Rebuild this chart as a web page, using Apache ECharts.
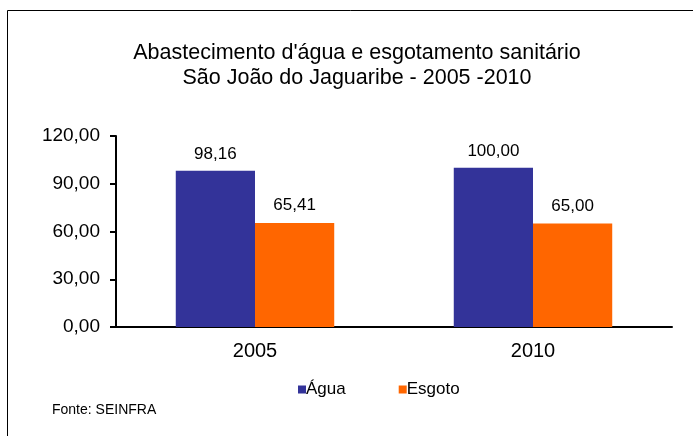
<!DOCTYPE html>
<html>
<head>
<meta charset="utf-8">
<script src="https://cdn.jsdelivr.net/npm/echarts@6/dist/echarts.min.js"></script>
<style>
  html, body { margin: 0; padding: 0; background: #fff; }
  #chart { width: 693px; height: 436px; }
</style>
</head>
<body>
<div id="chart"></div>
<script>
var anos = ['2005', '2010'];
var agua = [98.16, 100.00];
var esgoto = [65.41, 65.00];
var yTicks = [0, 30, 60, 90, 120];

var fmt = function (v) { return Number(v).toFixed(2).replace('.', ','); };

var myChart = echarts.init(document.getElementById('chart'));
var font = 'Liberation Sans, Arial, sans-serif';

var option = {
    backgroundColor: '#fff',
    animation: false,
    textStyle: { fontFamily: font },
    title: {
        text: 'Abastecimento d\'água e esgotamento sanitário\nSão João do Jaguaribe - 2005 -2010',
        left: 352, top: 36, textAlign: 'center',
        textStyle: { fontSize: 21.5, fontWeight: 'normal', color: '#000', lineHeight: 25, fontFamily: font }
    },
    legend: {
        data: ['Água', 'Esgoto'],
        left: 293, top: 376,
        itemWidth: 8, itemHeight: 8, itemGap: 53,
        icon: 'rect',
        textStyle: { fontSize: 17, color: '#000', padding: [0, 0, 0, -5] }
    },
    grid: { left: 116, right: 21, top: 136, bottom: 109 },
    xAxis: {
        type: 'category',
        data: anos,
        axisLine: { lineStyle: { color: '#000', width: 2 } },
        axisTick: { length: 6, lineStyle: { color: '#000', width: 2 } },
        axisLabel: { fontSize: 20, color: '#000', margin: 14 }
    },
    yAxis: {
        type: 'value',
        min: yTicks[0], max: yTicks[yTicks.length - 1], interval: 30,
        axisLine: { show: true, lineStyle: { color: '#000', width: 2 } },
        axisTick: { show: true, length: 6, lineStyle: { color: '#000', width: 2 } },
        splitLine: { show: false },
        axisLabel: { fontSize: 19, color: '#000', margin: 16, formatter: fmt }
    },
    series: [
        {
            name: 'Água', type: 'bar', data: agua,
            barGap: '0%', barCategoryGap: '43%',
            itemStyle: { color: '#333399' },
            label: { show: true, position: 'top', distance: 8, fontSize: 17, color: '#000', formatter: function (p) { return fmt(p.value); } }
        },
        {
            name: 'Esgoto', type: 'bar', data: esgoto,
            itemStyle: { color: '#FF6600' },
            label: { show: true, position: 'top', distance: 9, fontSize: 17, color: '#000', formatter: function (p) { return fmt(p.value); } }
        }
    ],
    graphic: [
        { type: 'rect', shape: { x: 7.5, y: 10.5, width: 720, height: 460 }, style: { fill: 'none', stroke: '#000', lineWidth: 1 } },
        { type: 'text', left: 52, top: 403, style: { text: 'Fonte: SEINFRA', font: '14px ' + font, fill: '#000' } }
    ]
};
myChart.setOption(option);
window.addEventListener('resize', function () { myChart.resize(); });
</script>
</body>
</html>
